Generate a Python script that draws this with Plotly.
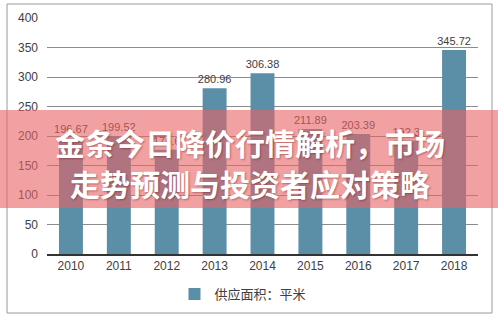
import plotly.graph_objects as go

years = ["2010", "2011", "2012", "2013", "2014", "2015", "2016", "2017", "2018"]
supply = [196.67, 199.52, 176.6, 280.96, 306.38, 211.89, 203.39, 192.3, 345.72]
series_name = "供应面积：平米"
y_ticks = [0, 50, 100, 150, 200, 250, 300, 350, 400]
title_line1 = "金条今日降价行情解析，市场"
title_line2 = "走势预测与投资者应对策略"

W, H = 498, 321
L, R, T, B = 47, 20, 18, 67
pw, ph = W - L - R, H - T - B

def px(x):
    return (x - L) / pw

def py(y):
    return (H - B - y) / ph

fig = go.Figure()
fig.add_trace(go.Bar(
    x=years, y=supply, name=series_name,
    marker=dict(color="#5A8FA7", line=dict(width=0)),
    text=[f"{v:g}" for v in supply], textposition="outside",
    textfont=dict(size=11, color="#404040", family="Liberation Sans, Arial"),
    constraintext="none",
    cliponaxis=False,
))

fig.update_layout(
    width=W, height=H,
    margin=dict(l=L, r=R, t=T, b=B, autoexpand=False),
    paper_bgcolor="white", plot_bgcolor="white",
    bargap=0.5,
    showlegend=True,
    legend=dict(orientation="h", x=px(243), xanchor="center", y=py(294), yanchor="middle",
                font=dict(size=13, color="#404040", family="Noto Sans CJK SC"),
                itemwidth=30),
    font=dict(family="Liberation Sans, Arial", color="#404040"),
    xaxis=dict(showgrid=False, ticks="", tickfont=dict(size=12, color="#404040"),
               showline=True, linecolor="#333333", linewidth=1.5),
    yaxis=dict(range=[0, 400], tickvals=y_ticks, showgrid=True, gridcolor="#8c8c8c",
               gridwidth=1, zeroline=False, showline=False, ticks="",
               tickfont=dict(size=12, color="#404040"), ticklabelstandoff=8),
    shapes=[
        dict(type="rect", xref="paper", yref="paper",
             x0=px(7), x1=px(492), y0=py(313), y1=py(4),
             line=dict(color="#9a9a9a", width=1), fillcolor="rgba(0,0,0,0)", layer="below"),
        dict(type="rect", xref="paper", yref="paper",
             x0=px(-5), x1=px(505), y0=py(208), y1=py(110),
             line=dict(width=0), fillcolor="rgba(232,98,100,0.6)", layer="above"),
    ],
    annotations=[
        dict(text=f"<b>{title_line1}</b>", xref="paper", yref="paper",
             x=px(250), y=py(142), xanchor="center", yanchor="middle", showarrow=False,
             font=dict(size=30, color="white", family="Noto Sans CJK SC",
                       shadow="1px 1px 2px rgba(80,0,0,0.35)")),
        dict(text=f"<b>{title_line2}</b>", xref="paper", yref="paper",
             x=px(250), y=py(183), xanchor="center", yanchor="middle", showarrow=False,
             font=dict(size=30, color="white", family="Noto Sans CJK SC",
                       shadow="1px 1px 2px rgba(80,0,0,0.35)")),
    ],
)

fig.write_html("out.html", config={"displayModeBar": False},
               post_script="document.body.style.margin='0';")
